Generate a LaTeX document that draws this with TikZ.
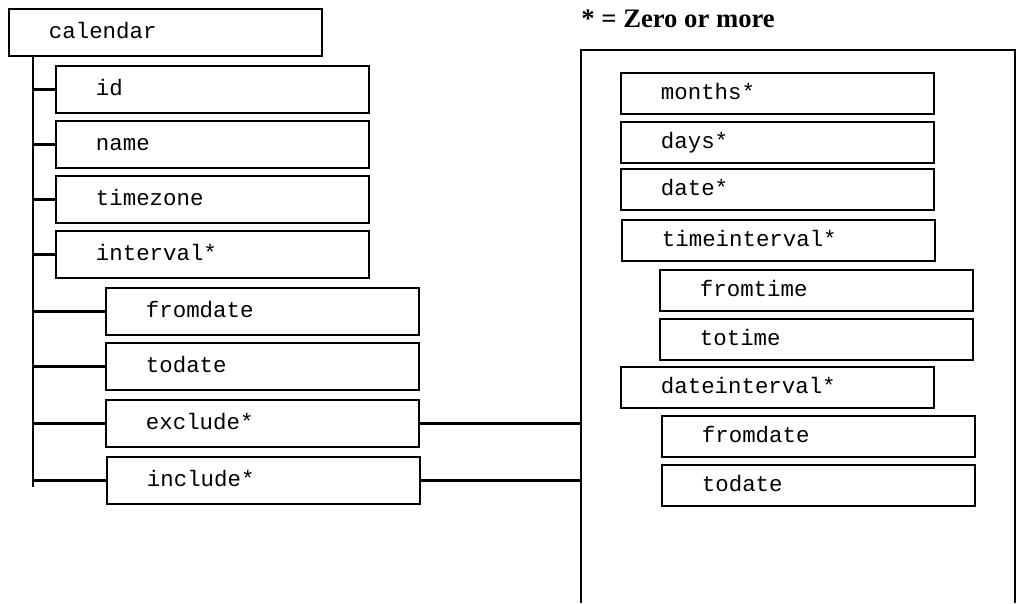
\documentclass[tikz,border=0pt]{standalone}
\usepackage{fontspec}
\setmainfont{Liberation Serif}
\setmonofont{Liberation Mono}

\begin{document}
\begin{tikzpicture}[x=0.75pt,y=-0.75pt,line width=1.4pt]
      \tikzset{
        elem/.style={draw,anchor=north west,inner xsep=30pt,inner ysep=0pt,
          text width=175pt,align=left,minimum height=35.25pt,
          text height=11pt,text depth=2pt,
          font=\ttfamily\fontsize{16.8}{18}\selectfont},
        subelem/.style={elem,minimum height=30.75pt},
        branch/.style={line width=1.8pt}
      }
      \useasboundingbox (0,0) rectangle (1016,603);

      % left tree
      \node[elem] (calendar) at (8,8) {calendar};
      \node[elem] (id) at (55,65) {id};
      \node[elem] (name) at (55,120) {name};
      \node[elem] (timezone) at (55,175) {timezone};
      \node[elem] (interval) at (55,230) {interval*};
      \node[elem] (fromdate) at (105,287) {fromdate};
      \node[elem] (todate) at (105,342) {todate};
      \node[elem] (exclude) at (105,399) {exclude*};
      \node[elem] (include) at (106,456) {include*};

      \coordinate (trunk) at (33,56);
      \coordinate (trunkend) at (33,487);
      \draw[branch] (trunk) -- (trunkend);
      \foreach \n in {id,name,timezone,interval,fromdate,todate,exclude,include}
        \draw[branch] (trunk |- \n.west) -- (\n.west);

      % rule box
      \node[anchor=base west,font=\bfseries\fontsize{20}{24}\selectfont] (legend)
        at (576,27) {* = Zero or more};
      \draw (581,603) -- (581,50) coordinate (rulebox) -- (1015,50) -- (1015,603);

      \node[subelem] (months) at (620,72) {months*};
      \node[subelem] (days) at (620,121) {days*};
      \node[subelem] (date) at (620,168) {date*};
      \node[subelem] (timeinterval) at (621,219) {timeinterval*};
      \node[subelem] (fromtime) at (659,269) {fromtime};
      \node[subelem] (totime) at (659,318) {totime};
      \node[subelem] (dateinterval) at (620,366) {dateinterval*};
      \node[subelem] (dfromdate) at (661,415) {fromdate};
      \node[subelem] (dtodate) at (661,464) {todate};

      \draw[branch] (exclude.east) -- (exclude.east -| rulebox)
            (include.east) -- (include.east -| rulebox);
\end{tikzpicture}
\end{document}
